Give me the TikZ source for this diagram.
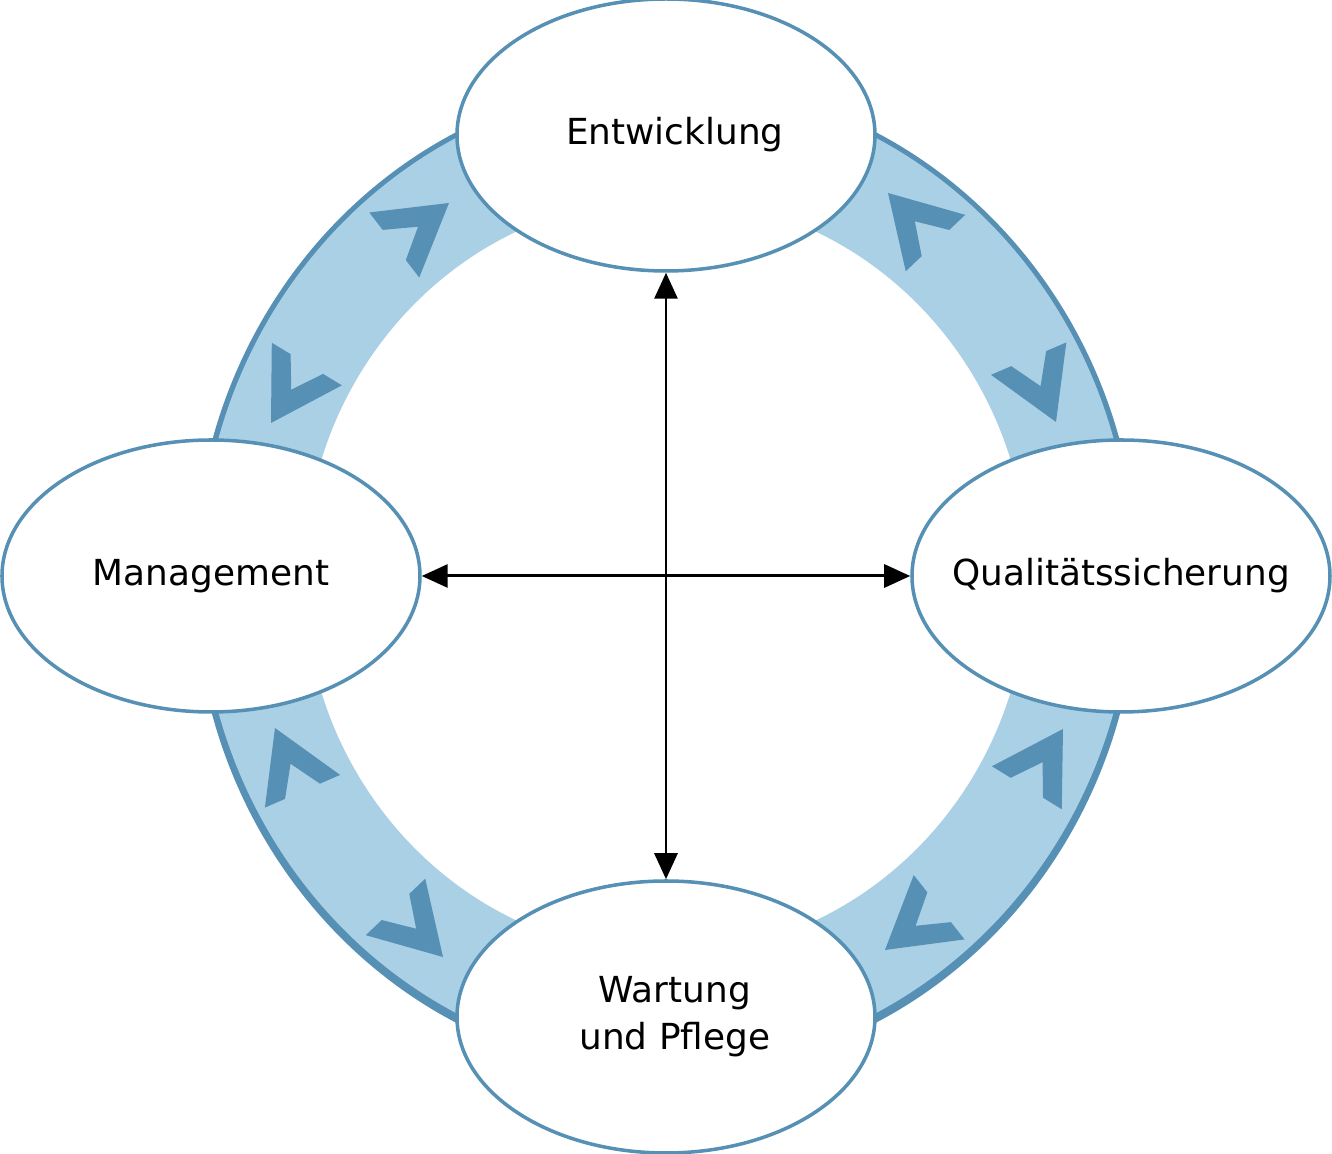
\documentclass[tikz,border=0pt]{standalone}
\usepackage{fontspec}
\setmainfont{DejaVu Sans}
\usetikzlibrary{shapes.geometric,arrows.meta}
\definecolor{ringdark}{HTML}{5690B5}
\definecolor{ringlight}{HTML}{AAD0E6}
\tikzset{%
phase/.style={draw=ringdark,line width=1pt,fill=white,ellipse,minimum width=41.8mm,minimum height=27.2mm,inner xsep=-8pt,inner ysep=0pt,align=center,font=\fontsize{10.2}{13.4}\selectfont},
link/.style={line width=0.85pt,{Triangle[length=2.6mm,width=2.3mm]}-{Triangle[length=2.6mm,width=2.3mm]}},
chevron/.pic={\fill[ringdark] (0,0) -- (-69,41) -- (-69,19) -- (-39,0) -- (-69,-19) -- (-69,-41) -- cycle;}
}

\begin{document}
\begin{tikzpicture}[x=0.1mm,y=0.1mm]
  \useasboundingbox (-666,-578) rectangle (666,576);

  % ring
  \fill[ringdark] (0,-1.5) ellipse [x radius=472,y radius=497];
  \fill[ringlight] (0,0.5) ellipse [x radius=466,y radius=490];
  \fill[white] (0,0) ellipse [x radius=362,y radius=378];

  % chevrons on the ring
  \foreach \tx/\ty/\ang in {-217/373/37.5, -395/153/238.7, 222/383/133.5, 390/154/-66.7,
                            -391/-152/113.5, -223/-381/-46.5, 397/-153/58.4, 219/-374/218.3}
    \path (\tx,\ty) pic[rotate=\ang] {chevron};

  % phases
  \node[phase] (entw) at (0,441) {\hspace*{5pt}Entwicklung};
  \node[phase] (mgmt) at (-455,0) {Management};
  \node[phase] (qs) at (455,0) {Qualitätssicherung};
  \node[phase] (wart) at (0,-441) {\hspace*{5pt}Wartung\\\hspace*{5pt}und Pflege};

  \draw[link] (entw) -- (wart);
  \draw[link] (mgmt) -- (qs);

\end{tikzpicture}
\end{document}
